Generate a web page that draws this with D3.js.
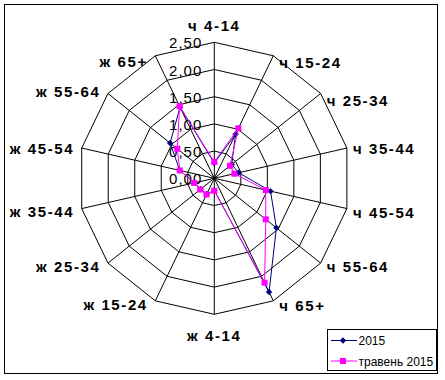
<!DOCTYPE html>
<html>
<head>
<meta charset="utf-8">
<script src="https://cdn.jsdelivr.net/npm/d3@7"></script>
<style>
  html, body { margin: 0; padding: 0; background: #fff; }
  svg { display: block; }
  text { font-family: "Liberation Sans", Arial, sans-serif; fill: #000; }
</style>
</head>
<body>
<svg id="chart" width="445" height="380"></svg>
<script>
const categories = ["ч 4-14", "ч 15-24", "ч 25-34", "ч 35-44", "ч 45-54", "ч 55-64", "ч 65+",
                    "ж 4-14", "ж 15-24", "ж 25-34", "ж 35-44", "ж 45-54", "ж 55-64", "ж 65+"];
const series2015 = [0.28, 0.90, 0.41, 0.46, 1.06, 1.46, 2.32, 0.22, 0.32, 0.32, 0.37, 0.65, 1.04, 1.45];
const seriesMay2015 = [0.30, 1.02, 0.37, 0.38, 0.97, 1.21, 2.13, 0.23, 0.33, 0.33, 0.38, 0.65, 0.87, 1.47];
const tickValues = [0, 0.5, 1.0, 1.5, 2.0, 2.5];
const tickLabels = ["0,00", "0,50", "1,00", "1,50", "2,00", "2,50"];
const seriesNames = ["2015", "травень 2015"];

const svg = d3.select("#chart");
const W = 445, H = 380;
const cx = 214.3, cy = 178.3, R = 136;

svg.append("rect").attr("x", 0).attr("y", 0).attr("width", W).attr("height", H).attr("fill", "#fff");
svg.append("rect").attr("x", 4.5).attr("y", 4.5).attr("width", 433).attr("height", 369)
  .attr("fill", "#fff").attr("stroke", "#000").attr("stroke-width", 1);

const r = d3.scaleLinear().domain([0, 2.5]).range([0, R]);
const ang = d3.scaleLinear().domain([0, categories.length]).range([0, 2 * Math.PI]);
const px = (i, v) => cx + r(v) * Math.sin(ang(i));
const py = (i, v) => cy - r(v) * Math.cos(ang(i));

const g = svg.append("g");

// rings
tickValues.filter(t => t > 0).forEach(t => {
  const pts = categories.map((c, i) => [px(i, t), py(i, t)]);
  g.append("polygon").attr("points", pts.map(p => p.join(",")).join(" "))
    .attr("fill", "none").attr("stroke", "#000").attr("stroke-width", 1);
});
// spokes
categories.forEach((c, i) => {
  g.append("line").attr("x1", cx).attr("y1", cy)
    .attr("x2", px(i, 2.5)).attr("y2", py(i, 2.5))
    .attr("stroke", "#000").attr("stroke-width", 1);
});

// tick labels
tickValues.forEach((t, k) => {
  g.append("text").attr("x", cx - 12).attr("y", py(0, t) + 0.5)
    .attr("text-anchor", "end").attr("dominant-baseline", "central")
    .style("font-size", "15px").style("letter-spacing", "1px")
    .text(tickLabels[k]);
});

// category labels
const labelDy = [-17, 6.5, 6.5, 0, 3.5, 3.6, 4.2, 21, 4, 3.6, 3.4, 0, -2, 6];
categories.forEach((c, i) => {
  const s = Math.sin(ang(i));
  const vx = px(i, 2.5), vy = py(i, 2.5);
  let anchor = "middle", x = vx;
  if (s > 0.05) { anchor = "start"; x = vx + 6; }
  else if (s < -0.05) { anchor = "end"; x = vx - 7.5; }
  g.append("text").attr("x", x).attr("y", vy + labelDy[i])
    .attr("text-anchor", anchor).attr("dominant-baseline", "central")
    .style("font-size", "15px").style("font-weight", "bold").style("letter-spacing", "1.6px")
    .text(c);
});

// series
const line = d3.line().curve(d3.curveLinearClosed);
function drawSeries(vals, color, marker) {
  const pts = vals.map((v, i) => [px(i, v), py(i, v)]);
  g.append("path").attr("d", line(pts)).attr("fill", "none")
    .attr("stroke", color).attr("stroke-width", 1);
  pts.forEach(p => {
    if (marker === "diamond") {
      g.append("path").attr("d", d3.symbol(d3.symbolDiamond2, 26)())
        .attr("transform", `translate(${p[0]},${p[1]})`).attr("fill", color);
    } else {
      g.append("rect").attr("x", p[0] - 3).attr("y", p[1] - 3)
        .attr("width", 6).attr("height", 6).attr("fill", color);
    }
  });
}
drawSeries(series2015, "#000080", "diamond");
drawSeries(seriesMay2015, "#FF00FF", "square");

// legend
const lg = svg.append("g");
lg.append("rect").attr("x", 327.5).attr("y", 329.5).attr("width", 109).attr("height", 41)
  .attr("fill", "#fff").attr("stroke", "#000").attr("stroke-width", 1);
const legendItems = [
  { name: seriesNames[0], color: "#000080", marker: "diamond", y: 340.5 },
  { name: seriesNames[1], color: "#FF00FF", marker: "square", y: 361 }
];
legendItems.forEach(d => {
  lg.append("line").attr("x1", 331).attr("x2", 357).attr("y1", d.y).attr("y2", d.y)
    .attr("stroke", d.color).attr("stroke-width", 1);
  if (d.marker === "diamond") {
    lg.append("path").attr("d", d3.symbol(d3.symbolDiamond2, 26)())
      .attr("transform", `translate(343,${d.y})`).attr("fill", d.color);
  } else {
    lg.append("rect").attr("x", 340).attr("y", d.y - 3).attr("width", 6).attr("height", 6).attr("fill", d.color);
  }
  lg.append("text").attr("x", 358.5).attr("y", d.y + 0.5).attr("dominant-baseline", "central")
    .style("font-size", "12px").text(d.name);
});
</script>
</body>
</html>
